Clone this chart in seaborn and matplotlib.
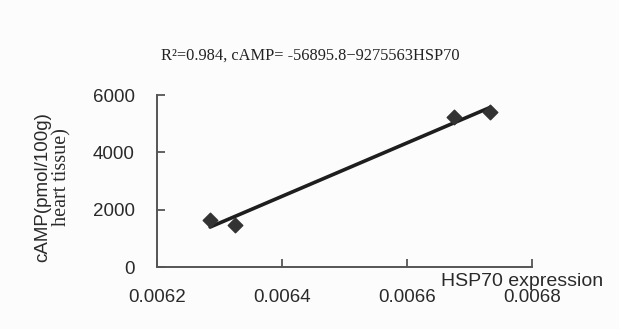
import numpy as np
import pandas as pd
import seaborn as sns
import matplotlib
matplotlib.use("Agg")
import matplotlib.pyplot as plt

hsp70 = [0.006285, 0.006325, 0.006675, 0.006733]
camp = [1640, 1465, 5250, 5400]
x_ticks = [0.0062, 0.0064, 0.0066, 0.0068]
y_ticks = [0, 2000, 4000, 6000]

df = pd.DataFrame({"HSP70": hsp70, "cAMP": camp})

sns.set_style("white")
plt.rcParams['font.family'] = ['Liberation Sans', 'DejaVu Sans']

fig = plt.figure(figsize=(6.19, 3.29), dpi=100, facecolor="#fcfcfc")
ax = fig.add_axes([157/619, 62/329, (532-157)/619, (267-95)/329])
ax.set_facecolor("#fcfcfc")

sns.regplot(data=df, x="HSP70", y="cAMP", ci=None, ax=ax,
            marker="D",
            scatter_kws=dict(s=55, color="#333333", alpha=1, zorder=3),
            line_kws=dict(color="#1e1e1e", lw=2.6))

ax.set_xlim(0.0062, 0.0068)
ax.set_ylim(0, 6000)
ax.set_xticks(x_ticks)
ax.set_yticks(y_ticks)
ax.set_xticklabels([f"{v:.4f}" for v in x_ticks])
ax.set_yticklabels([str(v) for v in y_ticks])
for s in ["top", "right"]:
    ax.spines[s].set_visible(False)
for s in ["left", "bottom"]:
    ax.spines[s].set_color("#555555")
    ax.spines[s].set_linewidth(1.4)
ax.tick_params(axis="both", direction="in", length=6, width=1.3, color="#555555",
               labelsize=13.5, labelcolor="#2a2a2a", bottom=True, left=True)
ax.tick_params(axis="x", pad=16)
ax.tick_params(axis="y", pad=16)
ax.set_xlabel("")
ax.set_ylabel("")

fig.text(310/619, 1 - 56/329, "R\u00b2=0.984, cAMP= -56895.8\u22129275563HSP70",
         ha="center", va="center", fontsize=11.8, family=["Liberation Serif", "DejaVu Serif"],
         color="#222222")
fig.text(522/619, 1 - 282/329, "HSP70 expression", ha="center", va="center",
         fontsize=14, color="#2a2a2a")
fig.text(43/619, 1 - 187/329, "cAMP(pmol/100g)", ha="center", va="center",
         rotation=90, fontsize=13.5, color="#2a2a2a")
fig.text(62/619, 1 - 177/329, "heart tissue)", ha="center", va="center",
         rotation=90, fontsize=14.5, family=["Liberation Serif", "DejaVu Serif"],
         color="#2a2a2a")

fig.savefig("out.png", dpi=100, facecolor=fig.get_facecolor())
